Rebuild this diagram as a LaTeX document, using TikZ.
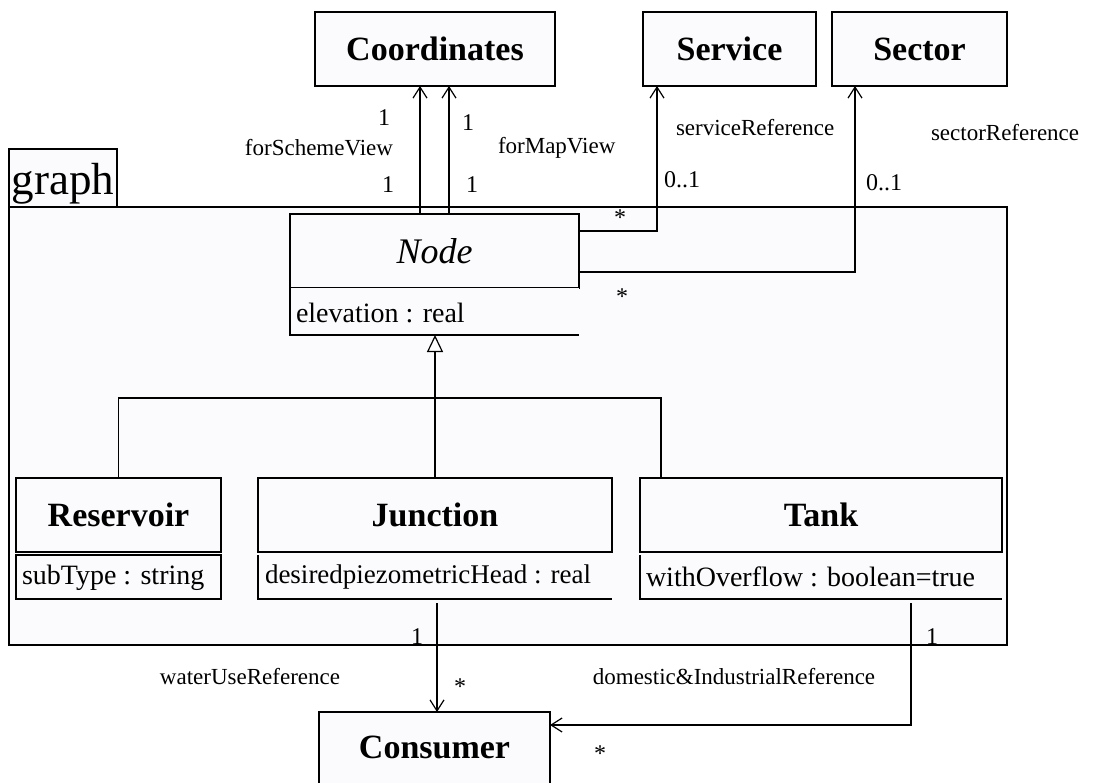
\documentclass[tikz,border=0pt]{standalone}
\usepackage{fontspec}
\setmainfont{Liberation Serif}
\usetikzlibrary{arrows.meta,calc}
\definecolor{boxfill}{RGB}{251,251,253}
\begin{document}
\begin{tikzpicture}[x=1pt,y=-1pt,
  every node/.style={inner sep=0pt, outer sep=0pt},
  line/.style={line width=1.2pt, draw=black},
  cls/.style={line, fill=boxfill, font=\fontsize{34}{40}\selectfont\bfseries, anchor=north west},
  comp/.style={fill=boxfill, anchor=north west},
  attr/.style={font=\fontsize{28}{32}\selectfont, anchor=west},
  lbl/.style={font=\fontsize{23}{26}\selectfont},
  mult/.style={font=\fontsize{24}{28}\selectfont},
  nav/.style={line, -{Straight Barb[length=11pt,width=14pt]}},
  gen/.style={line, -{Triangle[open,length=17pt,width=16pt,fill=white]}},
]
\useasboundingbox (0,0) rectangle (1094,783);
\begin{scope}
\clip (0,0) rectangle (1094,783);
% package
\node[line, fill=boxfill, anchor=north west, minimum width=108, minimum height=58] (tab) at (9,149) {};
\node[line, fill=boxfill, anchor=north west, minimum width=998, minimum height=438] (pkg) at (9,207) {};
\node[font=\fontsize{45}{48}\selectfont, anchor=base west] (graphlbl) at (12,195) {graph};

% classes outside
\node[cls, minimum width=240, minimum height=74] (coord) at (315,12) {Coordinates};
\node[cls, minimum width=173, minimum height=74] (service) at (643,12) {Service};
\node[cls, minimum width=175, minimum height=74] (sector) at (832,12) {Sector};

% Node
\node[cls, font=\fontsize{36}{40}\selectfont\itshape, minimum width=289, minimum height=74] (nodeT) at (290,214) {Node};
\node[comp, minimum width=289, minimum height=47] (nodeA) at (290,288) {};
\draw[line] (nodeA.north west) -- (nodeA.south west) -- (nodeA.south east);
\node[attr] (nodeAtxt) at (296,313) {elevation : real};

% Reservoir
\node[cls, minimum width=205, minimum height=74] (res) at (16,478) {Reservoir};
\node[comp, line, minimum width=205, minimum height=44] (resA) at (16,555) {};
\node[attr] (resAtxt) at (22,578) {subType : string};

% Junction
\node[cls, minimum width=354, minimum height=74] (junc) at (258,478) {Junction};
\node[comp, minimum width=354, minimum height=44] (juncA) at (258,555) {};
\draw[line] (juncA.north west) -- (juncA.south west) -- (juncA.south east);
\node[attr, font=\fontsize{27}{32}\selectfont] (juncAtxt) at (265,577) {desiredpiezometricHead : real};

% Tank
\node[cls, minimum width=362, minimum height=74] (tank) at (640,478) {Tank};
\node[comp, minimum width=362, minimum height=44] (tankA) at (640,555) {};
\draw[line] (tankA.north west) -- (tankA.south west) -- (tankA.south east);
\node[attr] (tankAtxt) at (646,577) {withOverflow : boolean=true};

% Consumer
\node[cls, draw=none, minimum width=231, minimum height=71] (cons) at (319,712) {Consumer};
\draw[line] (cons.south west) |- (cons.north east) -- (cons.south east);

% associations to Coordinates
\coordinate (cs) at (420,0);
\coordinate (cm) at (449,0);
\draw[nav] (nodeT.north -| cs) -- (coord.south -| cs);
\draw[nav] (nodeT.north -| cm) -- (coord.south -| cm);
\node[mult] (m1) at (384,118) {1};
\node[mult] (m2) at (388,185) {1};
\node[mult] (m3) at (468,123) {1};
\node[mult] (m4) at (472,185) {1};
\node[lbl, anchor=east] (lsv) at (393,148) {forSchemeView};
\node[lbl, anchor=west] (lmv) at (498,148) {forMapView};

% Service
\coordinate (sv) at (657,231);
\draw[nav] (nodeT.east |- sv) -| (service.south -| sv);
\node[lbl, anchor=west] (lsr) at (676,128) {serviceReference};
\node[mult, anchor=west] (m5) at (664,180) {0..1};
\node[mult] (m6) at (620,218) {*};

% Sector
\coordinate (sc) at (855,272);
\draw[nav] (nodeT.east |- sc) -| (sector.south -| sc);
\node[lbl, anchor=west] (lscr) at (931,133) {sectorReference};
\node[mult, anchor=west] (m7) at (866,183) {0..1};
\node[mult] (m8) at (622,297) {*};

% generalization
\coordinate (tk) at (661,398);
\draw[line] (res.north) |- (tk) -- (tank.north -| tk);
\draw[gen] (junc.north) -- (junc.north |- nodeA.south);

% Junction -> Consumer
\coordinate (jc) at (437,603);
\draw[nav] (jc) -- (cons.north -| jc);
\node[mult] (m9) at (417,637) {1};
\node[mult] (m10) at (460,687) {*};
\node[lbl] (lwu) at (250,677) {waterUseReference};

% Tank -> Consumer
\coordinate (tc) at (911,603);
\coordinate (tcb) at (911,725);
\draw[nav] (tc) -- (tcb) -- (cons.east |- tcb);
\node[mult] (m11) at (932,637) {1};
\node[mult] (m12) at (600,754) {*};
\node[lbl] (ldi) at (734,677) {domestic\&IndustrialReference};
\end{scope}
\end{tikzpicture}
\end{document}
